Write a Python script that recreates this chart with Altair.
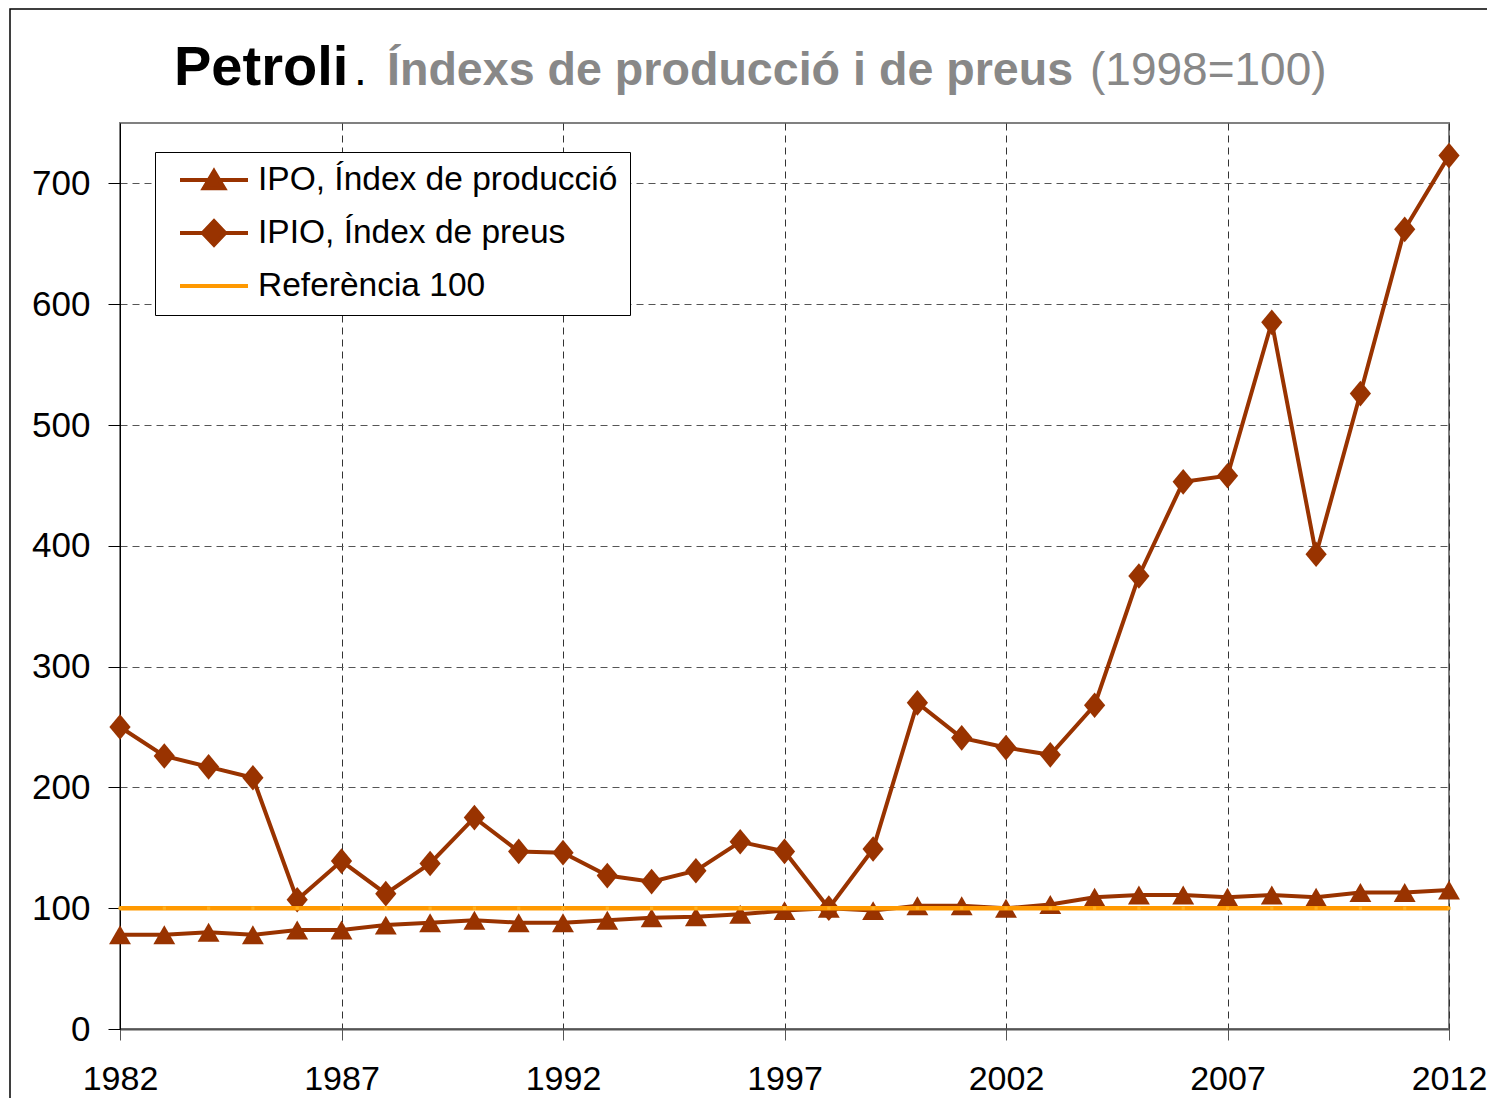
import altair as alt
import pandas as pd

years = [1982, 1983, 1984, 1985, 1986, 1987, 1988, 1989, 1990, 1991, 1992,
         1993, 1994, 1995, 1996, 1997, 1998, 1999, 2000, 2001, 2002, 2003,
         2004, 2005, 2006, 2007, 2008, 2009, 2010, 2011, 2012]
ipo = [78, 78, 80, 78, 82, 82, 86, 88, 90, 88, 88,
       90, 92, 93, 95, 98, 100, 98, 102, 102, 100, 103,
       109, 111, 111, 109, 111, 109, 113, 113, 115]
ipio = [250, 226, 217, 208, 107, 139, 112, 137, 175, 147, 146,
        127, 122, 131, 155, 147, 100, 149, 270, 241, 233, 227,
        268, 375, 453, 458, 585, 393, 526, 662, 723]
ref = [100] * len(years)

series_names = ["IPO, Índex de producció", "IPIO, Índex de preus", "Referència 100"]
series_colors = ["#993300", "#993300", "#FF9900"]
legend_paths = [
    "M-1,0H1M0,-0.26L0.3,0.24L-0.3,0.24Z",
    "M-1,0H1M0,-0.35L0.33,0L0,0.35L-0.33,0Z",
    "M-1,0H1",
]

x_ticks = [1982, 1987, 1992, 1997, 2002, 2007, 2012]
y_ticks = [0, 100, 200, 300, 400, 500, 600, 700]

title_main = "Petroli"
title_dot = "."
title_sub = "Índexs de producció i de preus"
title_base = "(1998=100)"

rows = []
for name, vals in zip(series_names, [ipo, ipio, ref]):
    for yv, v in zip(years, vals):
        rows.append({"year": yv, "value": v, "serie": name})
df = pd.DataFrame(rows)

FONT = "Liberation Sans"
W, H = 1329, 906

x_enc = alt.X("year:Q",
              scale=alt.Scale(domain=[1982, 2012], nice=False, zero=False),
              axis=alt.Axis(values=x_ticks, format="d", title=None,
                            labelFont=FONT, labelFontSize=34, labelColor="black",
                            labelFlush=False, labelOverlap=False,
                            tickSize=11, tickColor="#555", labelPadding=22,
                            domainColor="#555", domainWidth=2,
                            grid=True, gridDash=[7, 5], gridColor="#333", gridWidth=1))
y_enc = alt.Y("value:Q",
              scale=alt.Scale(domain=[0, 750], nice=False),
              axis=alt.Axis(values=y_ticks, title=None,
                            labelFont=FONT, labelFontSize=35, labelColor="black",
                            labelFlush=False, labelOverlap=False,
                            tickSize=12, tickColor="black", labelPadding=18,
                            domainColor="black", domainWidth=1,
                            grid=True, gridDash=[7, 5], gridColor="#555", gridWidth=1))

base = alt.Chart(df)

leg = alt.Legend(orient="none", legendX=35, legendY=29, title=None,
                 labelFont=FONT, labelFontSize=33.5, labelColor="black", labelLimit=600,
                 symbolSize=4624, symbolStrokeWidth=4, symbolOpacity=1,
                 strokeColor="black", padding=12, clipHeight=32, rowPadding=19,
                 labelOffset=8, symbolOffset=11, fillColor="white")

legend_layer = base.mark_point(opacity=0, filled=True).encode(
    x=x_enc, y=y_enc,
    fill=alt.Fill("serie:N", scale=alt.Scale(domain=series_names, range=series_colors), legend=leg),
    stroke=alt.Stroke("serie:N", scale=alt.Scale(domain=series_names, range=series_colors), legend=leg),
    shape=alt.Shape("serie:N", scale=alt.Scale(domain=series_names, range=legend_paths), legend=leg),
)

ipio_line = base.transform_filter(alt.datum.serie == series_names[1]).mark_line(
    color="#993300", strokeWidth=4).encode(x=x_enc, y=y_enc)
ipio_pts = base.transform_filter(alt.datum.serie == series_names[1]).mark_point(
    shape="M0,-1.15L0.95,0L0,1.15L-0.95,0Z", size=500, filled=True, opacity=1,
    color="#993300").encode(x=x_enc, y=y_enc)

ipo_line = base.transform_filter(alt.datum.serie == series_names[0]).mark_line(
    color="#993300", strokeWidth=4).encode(x=x_enc, y=y_enc)
ipo_pts = base.transform_filter(alt.datum.serie == series_names[0]).mark_point(
    shape="triangle-up", size=480, filled=True, opacity=1,
    color="#993300").encode(x=x_enc, y=y_enc)

ref_line = base.transform_filter(alt.datum.serie == series_names[2]).mark_line(
    color="#FF9900", strokeWidth=4.5).encode(x=x_enc, y=y_enc)
ref_pts = base.transform_filter(alt.datum.serie == series_names[2]).mark_point(
    shape="square", size=10, filled=True, opacity=1,
    color="#FFB020").encode(x=x_enc, y=y_enc)

frame = alt.Chart(pd.DataFrame({"k": [0]})).mark_rect(
    fill=None, stroke="black", strokeWidth=1.5).encode(
    x=alt.value(-110), x2=alt.value(2000), y=alt.value(-114), y2=alt.value(2000))

def txt(s, xpos, size, weight, color):
    return alt.Chart(pd.DataFrame({"t": [s]})).mark_text(
        align="left", baseline="alphabetic", font=FONT, fontSize=size,
        fontWeight=weight, color=color).encode(
        text="t:N", x=alt.value(xpos), y=alt.value(-38))

t1 = txt(title_main, 54, 56, "bold", "black")
t2 = txt(title_dot, 234, 46, "normal", "black")
t3 = txt(title_sub, 267, 46.6, "bold", "#888888")
t4 = txt(title_base, 970, 46, "normal", "#888888")

chart = alt.layer(
    legend_layer, ipo_line, ipo_pts, ipio_line, ipio_pts, ref_line, ref_pts,
    frame, t1, t2, t3, t4
).properties(
    width=W, height=H,
    autosize=alt.AutoSizeParams(type="none"),
    padding={"left": 112, "top": 115, "right": 38, "bottom": 69},
).configure_view(stroke="#808080", strokeWidth=2)

chart.save("out.html", embed_options={"renderer": "svg", "actions": False})
